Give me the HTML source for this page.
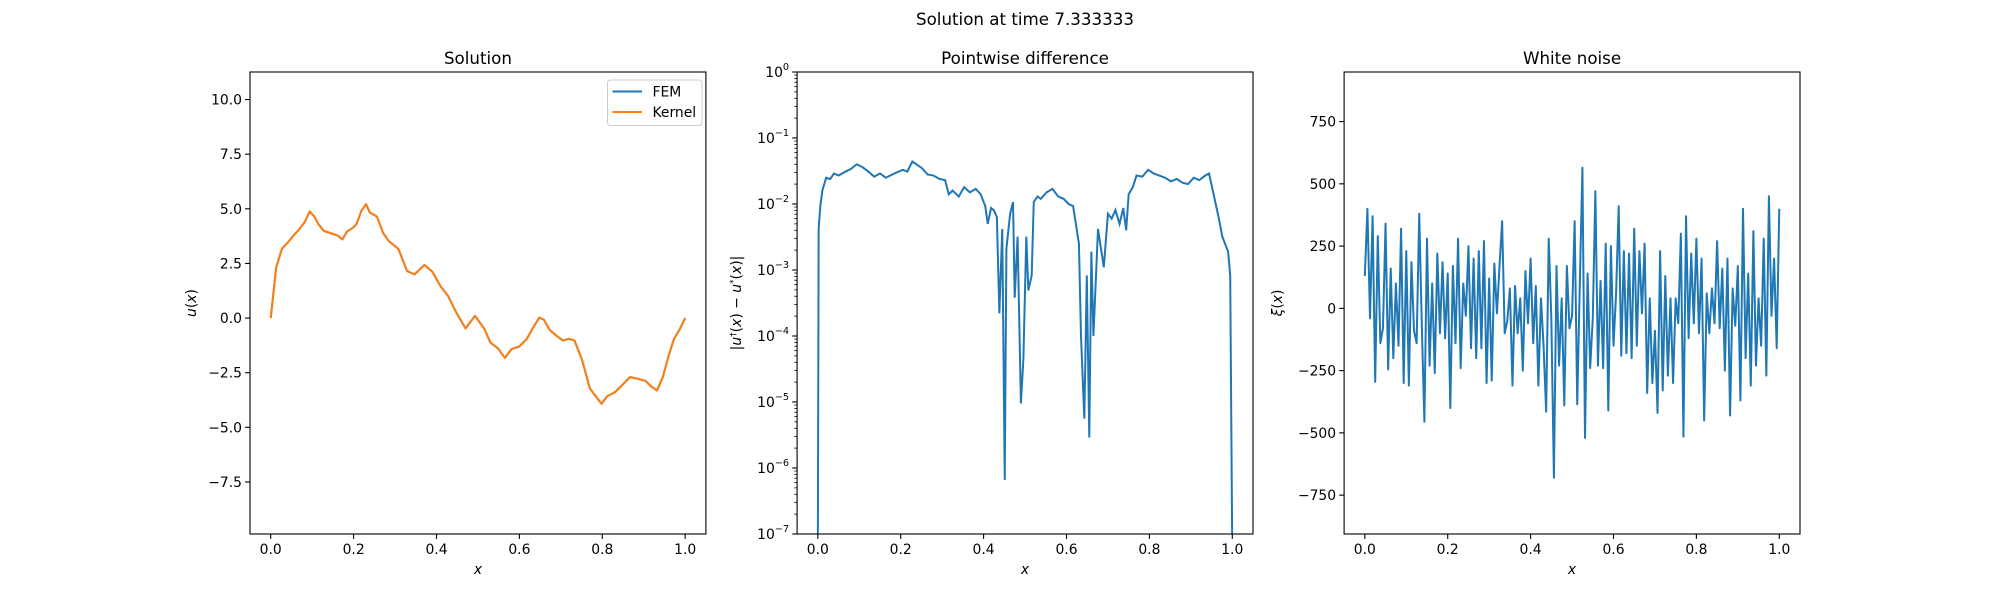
<!DOCTYPE html>
<html><head><meta charset="utf-8"><style>
body{margin:0;background:#fff;}
svg{display:block;font-family:"DejaVu Sans","Liberation Sans",sans-serif;}
</style></head><body>
<svg id="fig" width="2000" height="600" viewBox="0 0 2000 600" xmlns="http://www.w3.org/2000/svg">
<rect width="2000" height="600" fill="#fff"/>
<text x="1025" y="25" font-size="16.7" text-anchor="middle">Solution at time 7.333333</text>
</svg>
<script>
// Panel 1: solution
const solX=[0,.013,.027,.04,.055,.068,.082,.094,.105,.115,.128,.147,.161,.173,.184,.198,.207,.219,.23,.239,.256,.271,.285,.308,.329,.347,.371,.39,.41,.428,.447,.47,.493,.516,.53,.548,.565,.581,.6,.618,.632,.648,.659,.673,.687,.705,.719,.733,.751,.77,.784,.798,.812,.83,.849,.867,.886,.904,.918,.932,.946,.96,.973,.987,1];
const solY=[0,2.3,3.17,3.43,3.78,4.04,4.39,4.88,4.65,4.3,3.99,3.87,3.78,3.6,3.96,4.13,4.3,4.92,5.21,4.83,4.65,3.9,3.52,3.17,2.15,2.0,2.43,2.12,1.45,1.01,.28,-.47,.1,-.51,-1.12,-1.38,-1.82,-1.42,-1.3,-.95,-.47,.02,-.07,-.54,-.77,-1.03,-.95,-1.03,-1.9,-3.22,-3.57,-3.92,-3.57,-3.4,-3.05,-2.7,-2.78,-2.87,-3.13,-3.31,-2.7,-1.73,-.95,-.51,0];
const solTicksY=[-7.5,-5,-2.5,0,2.5,5,7.5,10];
const xTicks=[0,.2,.4,.6,.8,1];
// Panel 2: pointwise difference (log)
const diffX=[0,.002,.006,.011,.02,.03,.039,.05,.067,.08,.094,.108,.122,.136,.15,.164,.177,.19,.205,.216,.228,.24,.251,.265,.279,.293,.307,.316,.325,.34,.353,.367,.381,.393,.404,.41,.418,.425,.432,.438,.445,.451,.455,.464,.471,.475,.482,.49,.496,.503,.508,.516,.521,.53,.538,.552,.566,.58,.593,.605,.616,.63,.635,.643,.649,.655,.66,.665,.676,.69,.7,.709,.718,.728,.737,.744,.75,.76,.769,.783,.797,.81,.824,.838,.852,.866,.88,.893,.907,.92,.935,.944,.953,.96,.967,.976,.99,.995,1];
const diffY=[1e-8,4.2e-3,9.3e-3,1.6e-2,2.5e-2,2.4e-2,2.9e-2,2.7e-2,3.1e-2,3.4e-2,4.0e-2,3.6e-2,3.1e-2,2.6e-2,2.9e-2,2.5e-2,2.75e-2,3.0e-2,3.3e-2,3.1e-2,4.4e-2,3.9e-2,3.5e-2,2.8e-2,2.7e-2,2.4e-2,2.3e-2,1.4e-2,1.6e-2,1.3e-2,1.8e-2,1.5e-2,1.7e-2,1.4e-2,9.3e-3,5e-3,8.7e-3,8e-3,6.3e-3,2.2e-4,4.2e-3,6.6e-7,2.1e-3,7.1e-3,1.07e-2,3.8e-4,3.2e-3,9.5e-6,4.5e-5,3.2e-3,4.9e-4,8.3e-4,1.07e-2,1.3e-2,1.2e-2,1.5e-2,1.7e-2,1.3e-2,1.2e-2,1e-2,9.3e-3,2.5e-3,1e-4,5.6e-6,8.3e-4,2.9e-6,1.9e-3,1e-4,4.2e-3,1.1e-3,7.1e-3,6e-3,8.1e-3,5e-3,8.7e-3,4e-3,1.4e-2,1.8e-2,2.7e-2,2.6e-2,3.3e-2,2.9e-2,2.7e-2,2.5e-2,2.2e-2,2.4e-2,2.1e-2,2.0e-2,2.5e-2,2.3e-2,2.7e-2,2.9e-2,1.6e-2,1e-2,6.3e-3,3.2e-3,1.9e-3,8.3e-4,1e-8];
const diffDecades=[-7,-6,-5,-4,-3,-2,-1,0];
// Panel 3: white noise
const noiseY=[130,400,-40,370,-295,290,-140,-80,340,-245,160,-200,100,-150,320,-300,230,-310,185,-90,-140,380,-70,-455,280,-230,100,-260,220,-100,185,-120,140,-400,170,-140,280,-240,100,-30,250,-160,200,-200,230,-160,270,-300,120,-290,180,-20,170,350,-100,-50,80,-310,90,-100,40,-250,150,-60,200,-140,90,-310,40,-150,-415,280,-40,-680,170,-230,40,-390,170,-80,-30,350,-385,100,565,-520,140,-240,-40,470,-230,110,-240,260,-410,250,-150,60,410,-190,230,-180,220,-200,320,-150,230,-20,260,-340,40,-300,-90,-420,230,-330,130,-270,40,-300,40,-60,300,-515,370,-120,220,-60,280,-100,200,-450,60,-100,80,-60,270,-80,160,-250,200,-430,80,-70,170,-370,400,-200,140,-310,310,-230,40,-150,280,-270,450,-30,200,-160,400];
const noiseTicksY=[-750,-500,-250,0,250,500,750];

const NS='http://www.w3.org/2000/svg';
const svg=document.getElementById('fig');
function mk(tag,attrs,parent){const e=document.createElementNS(NS,tag);for(const k in attrs)e.setAttribute(k,attrs[k]);(parent||svg).appendChild(e);return e;}
const T=72,B=534,FS=13.9;
function panel(L,R,name,title,ylabelHTML,ylx){
  const g=mk('g',{});
  
  
  const t=mk('text',{x:(L+R)/2,y:64,'font-size':16.7,'text-anchor':'middle'},g);t.textContent=title;
  
  
  const xs=v=>L+(v+0.05)/1.1*(R-L);
  xTicks.forEach(v=>{const x=xs(v);mk('line',{x1:x,x2:x,y1:B,y2:B+4.9,stroke:'#000','stroke-width':1.1},g);
    const tt=mk('text',{x:x,y:B+20,'font-size':FS,'text-anchor':'middle'},g);tt.textContent=v.toFixed(1);
    
    });
  const xl=mk('text',{x:(L+R)/2,y:B+40,'font-size':FS,'text-anchor':'middle','font-style':'italic'},g);xl.textContent='x';
  
  
  const yl=mk('text',{x:ylx,y:(T+B)/2,'font-size':FS,'text-anchor':'middle',transform:`rotate(-90 ${ylx} ${(T+B)/2})`},g);yl.innerHTML=ylabelHTML;
  
  
  return {g,xs};
}
function frame(g,L,R){mk('rect',{x:L,y:T,width:R-L,height:B-T,fill:'none',stroke:'#000','stroke-width':1.1},g);}
function yTick(g,L,y,label,minor){
  mk('line',{x1:L-(minor?2.8:4.9),x2:L,y1:y,y2:y,stroke:'#000','stroke-width':minor?0.8:1.1},g);
}
// Panel 1
{
  const L=250,R=705.9,ymin=-9.88,ymax=11.26;
  const {g,xs}=panel(L,R,'solution-panel','Solution','<tspan font-style="italic">u</tspan>(<tspan font-style="italic">x</tspan>)',196);
  const ys=v=>B-(v-ymin)/(ymax-ymin)*(B-T);
  solTicksY.forEach(v=>{const y=ys(v);yTick(g,L,y);const t=mk('text',{x:L-8,y:y+5,'font-size':FS,'text-anchor':'end'},g);t.textContent=(v<0?'\u2212':'')+Math.abs(v).toFixed(1);
    
    });
  const pts=solX.map((x,i)=>xs(x)+','+ys(solY[i])).join(' ');
  const l1=mk('polyline',{points:pts,fill:'none',stroke:'#1f77b4','stroke-width':2,'stroke-linejoin':'round'},g);
  
  
  const l2=mk('polyline',{points:pts,fill:'none',stroke:'#ff7f0e','stroke-width':2,'stroke-linejoin':'round'},g);
  
  
  frame(g,L,R);
  const lg=mk('g',{},g);
  
  
  mk('rect',{x:607.5,y:80,width:94.5,height:45.5,rx:3,fill:'#fff',stroke:'#ccc','stroke-width':1},lg);
  [['FEM','#1f77b4',91.5],['Kernel','#ff7f0e',112]].forEach(([n,c,y])=>{
    const e=mk('g',{},lg);
    
    
    mk('line',{x1:612.5,x2:642,y1:y,y2:y,stroke:c,'stroke-width':2},e);
    const t=mk('text',{x:652.5,y:y+5,'font-size':FS},e);t.textContent=n;});
}
// Panel 2
{
  const L=797.1,R=1253;
  const {g,xs}=panel(L,R,'difference-panel','Pointwise difference','|<tspan font-style="italic">u</tspan><tspan font-size="9" dy="-5">\u2020</tspan><tspan dy="5">(</tspan><tspan font-style="italic">x</tspan>) \u2212 <tspan font-style="italic">u</tspan><tspan font-size="9" dy="-5">*</tspan><tspan dy="5">(</tspan><tspan font-style="italic">x</tspan>)|',741);
  const ys=v=>B-(Math.log10(v)+7)/7*(B-T);
  diffDecades.forEach(d=>{const y=ys(Math.pow(10,d));yTick(g,L,y);
    if(d<0)for(let m=2;m<10;m++)yTick(g,L,ys(m*Math.pow(10,d)),null,true);
    const t=mk('text',{x:L-8,y:y+5,'font-size':FS,'text-anchor':'end'},g);
    t.innerHTML='10<tspan font-size="9.7" dy="-7">'+(d<0?'\u2212'+(-d):''+d)+'</tspan>';
    
    });
  const cp=mk('clipPath',{id:'c2'});mk('rect',{x:L,y:T,width:R-L,height:B-T},cp);
  const pts=diffX.map((x,i)=>xs(x)+','+Math.min(ys(diffY[i]),B+20)).join(' ');
  const l=mk('polyline',{points:pts,fill:'none',stroke:'#1f77b4','stroke-width':2,'clip-path':'url(#c2)'},g);
  
  
  frame(g,L,R);
}
// Panel 3
{
  const L=1344.1,R=1800,ymin=-906,ymax=949;
  const {g,xs}=panel(L,R,'noise-panel','White noise','<tspan font-style="italic">\u03BE</tspan>(<tspan font-style="italic">x</tspan>)',1282);
  const ys=v=>B-(v-ymin)/(ymax-ymin)*(B-T);
  noiseTicksY.forEach(v=>{const y=ys(v);yTick(g,L,y);const t=mk('text',{x:L-8,y:y+5,'font-size':FS,'text-anchor':'end'},g);t.textContent=(v<0?'\u2212':'')+Math.abs(v);
    
    });
  const n=noiseY.length;
  const pts=noiseY.map((v,i)=>xs(i/(n-1))+','+ys(v)).join(' ');
  const l=mk('polyline',{points:pts,fill:'none',stroke:'#1f77b4','stroke-width':2,'stroke-linejoin':'round'},g);
  
  
  frame(g,L,R);
}
</script>
</body></html>
